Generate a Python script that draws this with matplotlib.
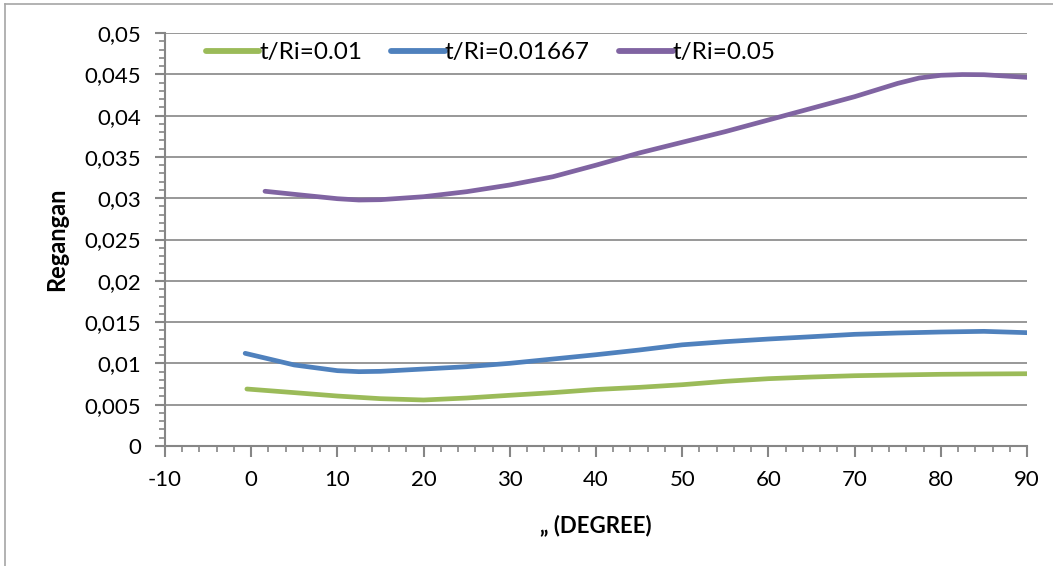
import numpy as np
import matplotlib
matplotlib.use("Agg")
import matplotlib.pyplot as plt
from matplotlib.ticker import MultipleLocator, FuncFormatter
from matplotlib.lines import Line2D

plt.rcParams['font.family'] = ['Lato', 'DejaVu Sans']
plt.rcParams['axes.unicode_minus'] = False

# values
x_green = [-0.5, 5, 10, 15, 20, 25, 30, 35, 40, 45, 50, 55, 60, 65, 70, 75, 80, 85, 90]
y_green = [0.0069, 0.00646, 0.00605, 0.00573, 0.00557, 0.00581, 0.00614, 0.00646, 0.00684,
           0.0071, 0.00742, 0.00783, 0.00815, 0.00835, 0.00851, 0.0086, 0.00868, 0.00872, 0.00875]

x_blue = [-0.7, 5, 10, 12.5, 15, 20, 25, 30, 35, 40, 45, 50, 55, 60, 65, 70, 75, 80, 85, 90]
y_blue = [0.01122, 0.00981, 0.00912, 0.0090, 0.00904, 0.00932, 0.0096, 0.01001, 0.01053, 0.01105,
          0.01162, 0.01225, 0.01263, 0.01295, 0.01323, 0.01352, 0.01368, 0.0138, 0.01388, 0.01372]

x_purple = [1.6, 5, 10, 12.5, 15, 20, 25, 30, 35, 40, 45, 50, 55, 60, 65, 70, 75, 77.5, 80, 82.5, 85, 90]
y_purple = [0.03084, 0.03047, 0.02994, 0.02978, 0.02982, 0.03018, 0.03079, 0.0316, 0.0326, 0.034,
            0.03547, 0.03677, 0.03806, 0.03947, 0.04088, 0.04229, 0.0439, 0.04455, 0.04488, 0.04497,
            0.04495, 0.04463]

labels = ['t/Ri=0.01', 't/Ri=0.01667', 't/Ri=0.05']
colors = ['#9BBB59', '#4F81BD', '#8064A2']
axis_gray = '#868686'

fig = plt.figure(figsize=(10.53, 5.66), dpi=100)
ax = fig.add_axes([165/1053, 1 - 446/566, (1027 - 165)/1053, (446 - 33)/566])

for xs, ys, c, lab in zip([x_green, x_blue, x_purple], [y_green, y_blue, y_purple], colors, labels):
    ax.plot(xs, ys, color=c, lw=3.4, label=lab, solid_capstyle='round', solid_joinstyle='round')

ax.set_xlim(-10, 90)
ax.set_ylim(0, 0.05)
ax.xaxis.set_major_locator(MultipleLocator(10))
ax.xaxis.set_minor_locator(MultipleLocator(2))
ax.yaxis.set_major_locator(MultipleLocator(0.005))
ax.yaxis.set_minor_locator(MultipleLocator(0.001))
ax.yaxis.set_major_formatter(FuncFormatter(lambda v, p: ('%g' % round(v, 4)).replace('.', ',')))

ax.grid(axis='y', which='major', color=axis_gray, lw=1.2)
ax.set_axisbelow(True)
for s in ['top', 'right']:
    ax.spines[s].set_visible(False)
for s in ['left', 'bottom']:
    ax.spines[s].set_color(axis_gray)
    ax.spines[s].set_linewidth(1.5)

ax.tick_params(axis='both', which='major', colors=axis_gray, labelcolor='black', labelsize=16, width=1.5)
ax.tick_params(axis='x', which='major', length=8, pad=9)
ax.tick_params(axis='y', which='major', length=7, pad=10)
ax.tick_params(axis='both', which='minor', colors=axis_gray, width=1.2, length=4.5)

ax.set_ylabel('Regangan', fontsize=17, fontweight='bold', labelpad=12)
ax.set_xlabel('\u201e (DEGREE)', fontsize=16, fontweight='bold', labelpad=18)

leg = ax.legend(loc='upper left', bbox_to_anchor=(0.022, 1.03), ncol=3, frameon=False, fontsize=17.5,
                handlelength=2.2, handletextpad=0.0, columnspacing=1.2)
for h in leg.get_lines():
    h.set_linewidth(4.2)

# outer chart frame (left and top edges visible in the crop)
fig.add_artist(Line2D([5/1053, 5/1053], [0, 1 - 4/566], color='#A6A6A6', lw=1.2))
fig.add_artist(Line2D([5/1053, 1], [1 - 4/566, 1 - 4/566], color='#A6A6A6', lw=1.2))

fig.savefig('out.png', dpi=100)
